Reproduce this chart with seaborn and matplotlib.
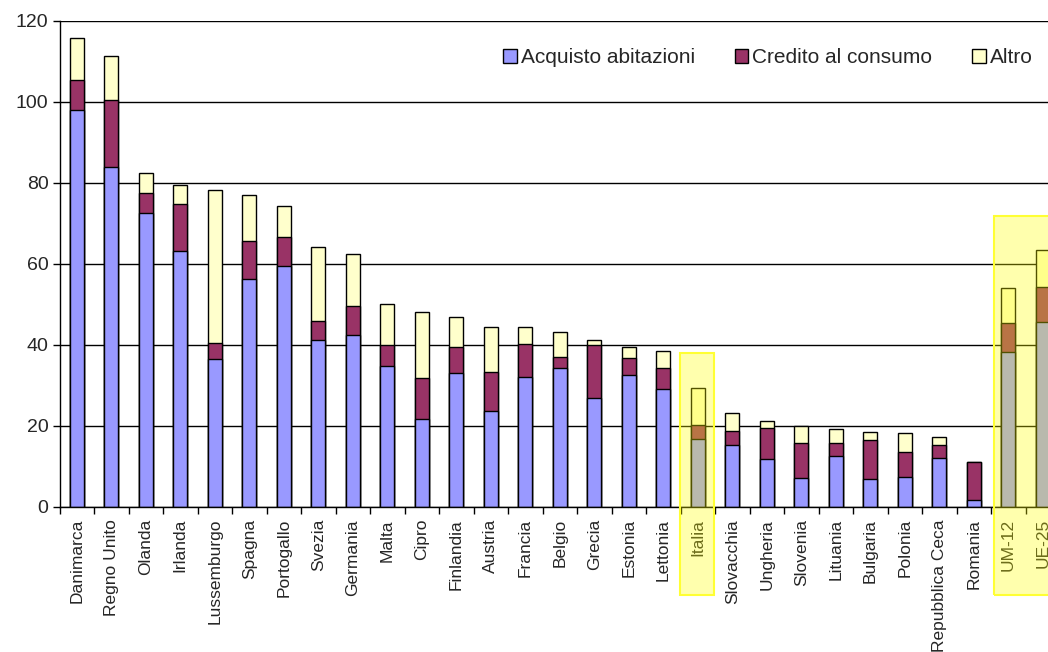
import matplotlib
matplotlib.use("Agg")
import matplotlib.pyplot as plt
from matplotlib.patches import Rectangle
import seaborn as sns
import numpy as np
import pandas as pd

# Indebitamento delle famiglie per componente (in % del reddito disponibile)
paesi = ["Danimarca", "Regno Unito", "Olanda", "Irlanda", "Lussemburgo", "Spagna",
         "Portogallo", "Svezia", "Germania", "Malta", "Cipro", "Finlandia", "Austria",
         "Francia", "Belgio", "Grecia", "Estonia", "Lettonia", "Italia", "Slovacchia",
         "Ungheria", "Slovenia", "Lituania", "Bulgaria", "Polonia", "Repubblica Ceca",
         "Romania", "UM-12", "UE-25"]
acquisto_abitazioni = [98.0, 83.9, 72.5, 63.2, 36.4, 56.1, 59.3, 41.2, 42.4, 34.8,
                       21.6, 33.0, 23.6, 31.9, 34.3, 26.8, 32.5, 29.1, 16.6, 15.2,
                       11.8, 7.1, 12.4, 6.9, 7.4, 11.9, 1.7, 38.1, 45.6]
credito_consumo = [7.3, 16.4, 4.8, 11.4, 3.9, 9.4, 7.2, 4.5, 7.1, 5.0,
                   10.1, 6.3, 9.7, 8.2, 2.7, 13.1, 4.1, 5.2, 3.5, 3.4,
                   7.5, 8.5, 3.3, 9.6, 6.0, 3.4, 9.4, 7.2, 8.5]
altro = [10.5, 10.9, 5.0, 4.8, 37.9, 11.5, 7.8, 18.3, 12.9, 10.2,
         16.3, 7.4, 11.1, 4.1, 6.1, 1.1, 2.8, 4.1, 9.2, 4.6,
         1.8, 4.2, 3.5, 1.8, 4.7, 1.9, 0.0, 8.7, 9.2]
serie = ["Acquisto abitazioni", "Credito al consumo", "Altro"]
colori = ["#9999FF", "#993366", "#FFFFCC"]

df = pd.DataFrame({"paese": paesi,
                   "acq": acquisto_abitazioni,
                   "cred": credito_consumo,
                   "altro": altro})
df["liv_cred"] = df["acq"] + df["cred"]
df["liv_tot"] = df["liv_cred"] + df["altro"]

sns.set_theme(style="white")
plt.rcParams["font.family"] = ["Liberation Sans", "DejaVu Sans"]

W, H = 1048, 652
fig = plt.figure(figsize=(W / 100, H / 100), dpi=100)
x0, y0, y1 = 59.5, 506.5, 20.5
step = 34.5
ax = fig.add_axes([x0 / W, 1 - y0 / H, step * len(paesi) / W, (y0 - y1) / H])

# Stacked bars: draw cumulative levels from the top down
bar_kw = dict(width=0.41, edgecolor="black", linewidth=1.0, saturation=1, ax=ax,
              order=paesi, zorder=3)
sns.barplot(data=df, x="paese", y="liv_tot", color=colori[2], **bar_kw)
sns.barplot(data=df, x="paese", y="liv_cred", color=colori[1], **bar_kw)
sns.barplot(data=df, x="paese", y="acq", color=colori[0], **bar_kw)

ax.set_xlim(-0.5, len(paesi) - 0.5)
ax.set_ylim(0, 120)
ax.set_yticks(np.arange(0, 121, 20))
ax.yaxis.grid(True, color="black", linewidth=1.0, zorder=0)
ax.set_axisbelow(True)
ax.set_xlabel("")
ax.set_ylabel("")

for s in ["top", "right"]:
    ax.spines[s].set_visible(False)
for s in ["left", "bottom"]:
    ax.spines[s].set_color("black")
    ax.spines[s].set_linewidth(1.0)
    ax.spines[s].set_zorder(4)

ax.set_xticks(range(len(paesi)))
ax.set_xticklabels(paesi, rotation=90, fontsize=12.5)
ax.set_xticks(np.arange(-0.5, len(paesi)), minor=True)
ax.tick_params(axis="x", which="major", length=0, pad=9)
ax.tick_params(axis="x", which="minor", length=5, width=1, color="black",
               direction="out", bottom=True)
ax.tick_params(axis="y", length=5, width=1, color="black", direction="out",
               left=True, labelsize=14, pad=3)

# Highlight boxes around Italy and the euro-area / EU aggregates
box_kw = dict(facecolor="#FFFF00", alpha=0.32, edgecolor="none",
              clip_on=False, zorder=5)
edge_kw = dict(facecolor="none", edgecolor="#FFFF33", linewidth=1.5,
               clip_on=False, zorder=6)
y_bottom = -21.8
i_it = paesi.index("Italia")
i_um = paesi.index("UM-12")
for (xa, xb, top) in [(i_it - 0.52, i_it + 0.48, 37.8), (i_um - 0.42, len(paesi) + 0.5, 71.7)]:
    ax.add_patch(Rectangle((xa, y_bottom), xb - xa, top - y_bottom, **box_kw))
    ax.add_patch(Rectangle((xa, y_bottom), xb - xa, top - y_bottom, **edge_kw))

handles = [Rectangle((0, 0), 1, 1, facecolor=c, edgecolor="black", linewidth=1.0)
           for c in colori]
ax.legend(handles, serie, loc="center right", bbox_to_anchor=(0.981, 0.923),
          ncol=3, frameon=False, fontsize=15, handlelength=0.65, handleheight=0.65,
          handletextpad=0.2, columnspacing=1.9, borderaxespad=0)

fig.savefig("out.png", dpi=100)
